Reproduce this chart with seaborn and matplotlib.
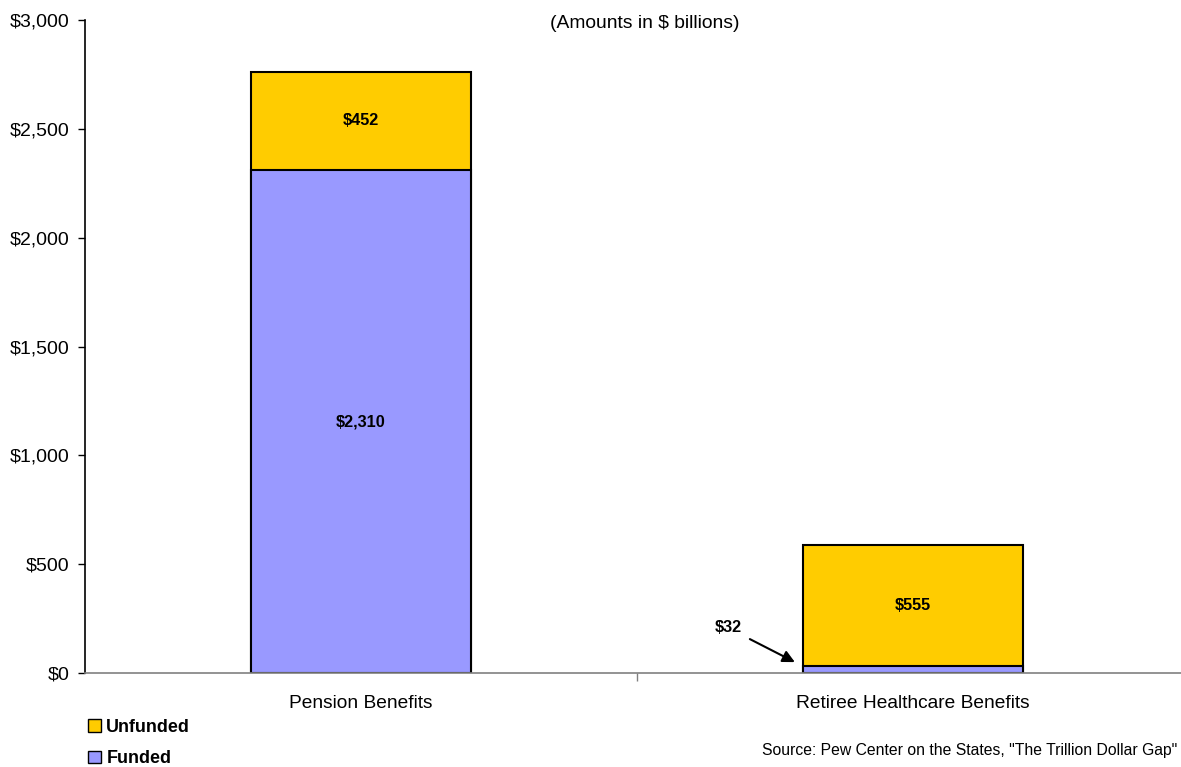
import matplotlib
matplotlib.use("Agg")
import matplotlib.pyplot as plt
import seaborn as sns
import pandas as pd
from matplotlib.patches import Patch
from matplotlib.ticker import FuncFormatter, FixedLocator

categories = ["Pension Benefits", "Retiree Healthcare Benefits"]
funded = [2310, 32]
unfunded = [452, 555]
yticks = [0, 500, 1000, 1500, 2000, 2500, 3000]

sns.set_theme(style="white")
plt.rcParams['font.family'] = ['Liberation Sans', 'DejaVu Sans']
plt.rcParams['text.color'] = 'black'
plt.rcParams['xtick.color'] = 'black'
plt.rcParams['ytick.color'] = 'black'
plt.rcParams['axes.labelcolor'] = 'black'

YELLOW = "#FFCC00"
PURPLE = "#9999FF"

df = pd.DataFrame({"cat": categories, "funded": funded, "unfunded": unfunded})
df["total"] = df["funded"] + df["unfunded"]

fig = plt.figure(figsize=(11.81, 7.67), dpi=100)
ax = fig.add_axes([85/1181, 1-673/767, 1104/1181, 653/767])

sns.barplot(data=df, x="cat", y="total", color=YELLOW, edgecolor="black",
            linewidth=1.5, width=0.4, saturation=1, ax=ax)
sns.barplot(data=df, x="cat", y="funded", color=PURPLE, edgecolor="black",
            linewidth=1.5, width=0.4, saturation=1, ax=ax)

ax.set_xlim(-0.5, 1.5)
ax.set_ylim(0, 3000)
ax.set_xlabel("")
ax.set_ylabel("")
ax.yaxis.set_major_locator(FixedLocator(yticks))
ax.yaxis.set_major_formatter(FuncFormatter(lambda v, p: f"${v:,.0f}"))
ax.tick_params(axis="y", which="both", left=True, length=5, width=1,
               color="black", labelsize=14, pad=6)
ax.tick_params(axis="x", bottom=False, labelsize=13.8, pad=10)
ax.set_xticks([0, 1])
ax.set_xticklabels(categories)
ax.set_xticks([0.5], minor=True)
ax.tick_params(axis="x", which="minor", bottom=True, length=6, width=1, color="#808080")

for s in ["top", "right"]:
    ax.spines[s].set_visible(False)
ax.spines["left"].set_color("black")
ax.spines["left"].set_linewidth(1.2)
ax.spines["bottom"].set_color("#808080")
ax.spines["bottom"].set_linewidth(1.2)
ax.grid(False)

for i, row in df.iterrows():
    if i == 0:
        ax.text(i, row["funded"] / 2, f"${row['funded']:,}", ha="center", va="center",
                fontsize=11.7, fontweight="bold")
    ax.text(i, row["funded"] + row["unfunded"] / 2, f"${row['unfunded']:,}",
            ha="center", va="center", fontsize=11.7, fontweight="bold")

ax.annotate(f"${funded[1]}", xy=(0.786, 50), xytext=(0.665, 207),
            fontsize=11.7, fontweight="bold", ha="center", va="center",
            arrowprops=dict(arrowstyle="-|>", color="black", lw=1.5,
                            shrinkA=4, shrinkB=0, mutation_scale=18))

fig.text(645/1181, 1-23/767, "(Amounts in $ billions)", ha="center", va="center",
         fontsize=13.9)
fig.text(1177/1181, 1-750/767, 'Source: Pew Center on the States, "The Trillion Dollar Gap"',
         ha="right", va="center", fontsize=11.3)

handles = [Patch(facecolor=YELLOW, edgecolor="black", label="Unfunded"),
           Patch(facecolor=PURPLE, edgecolor="black", label="Funded")]
leg = fig.legend(handles=handles, loc="upper left",
                 bbox_to_anchor=(88/1181, 1-719/767), frameon=False,
                 prop={"size": 12.9, "weight": "bold"}, handlelength=0.72,
                 handleheight=0.72, handletextpad=0.3, labelspacing=0.8,
                 borderpad=0, borderaxespad=0)

fig.savefig("out.png", dpi=100)
